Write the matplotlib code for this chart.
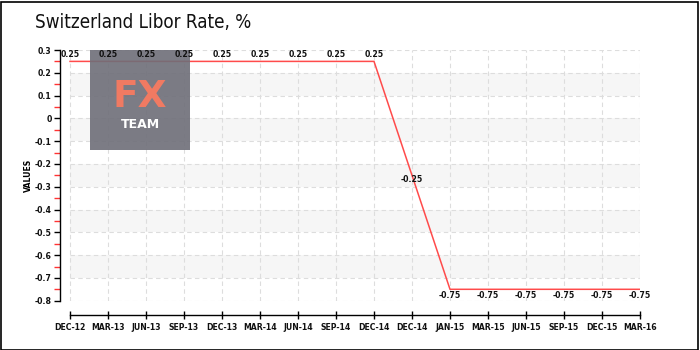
import matplotlib
matplotlib.use("Agg")
import matplotlib.pyplot as plt
from matplotlib.patches import Rectangle
import numpy as np

# Quarterly Swiss franc Libor rate, %
periods = ["DEC-12", "MAR-13", "JUN-13", "SEP-13", "DEC-13", "MAR-14", "JUN-14",
           "SEP-14", "DEC-14", "DEC-14", "JAN-15", "MAR-15", "JUN-15", "SEP-15",
           "DEC-15", "MAR-16"]
rates = [0.25, 0.25, 0.25, 0.25, 0.25, 0.25, 0.25, 0.25, 0.25,
         -0.25, -0.75, -0.75, -0.75, -0.75, -0.75, -0.75]
y_ticks = [0.3, 0.2, 0.1, 0, -0.1, -0.2, -0.3, -0.4, -0.5, -0.6, -0.7, -0.8]
y_tick_labels = ["0.3", "0.2", "0.1", "0", "-0.1", "-0.2", "-0.3", "-0.4",
                 "-0.5", "-0.6", "-0.7", "-0.8"]

W, H = 700, 350
fig = plt.figure(figsize=(W / 100, H / 100), dpi=100)
fig.patch.set_facecolor("white")

# outer frame
fig.add_artist(Rectangle((0.5 / W, 0.5 / H), 1 - 2.5 / W, 1 - 2.5 / H,
                         transform=fig.transFigure, fill=False,
                         edgecolor="black", linewidth=1.2))

fig.text(35 / W, 1 - 22 / H, "Switzerland Libor Rate, %", fontsize=13.5,
         family="DejaVu Sans", fontstretch="condensed", fontweight="light",
         va="center", ha="left", color="#111111")

left, right, top, bottom = 60, 640, 50, 300.7
ax = fig.add_axes([left / W, 1 - bottom / H, (right - left) / W, (bottom - top) / H])
x = np.arange(len(periods))
n = len(periods)
pad = 10 / 38.0
ax.set_xlim(-pad, n - 1)
ax.set_ylim(-0.8, 0.3)

# alternating bands and dashed grid
for lo in [0.1, -0.1, -0.3, -0.5, -0.7]:
    ax.fill_between([0, n - 1], lo, lo + 0.1, color="#f6f6f6", linewidth=0, zorder=0)
for yv in y_ticks:
    ax.plot([0, n - 1], [yv, yv], color="#dddddd", linestyle=(0, (4, 3)),
            linewidth=0.8, zorder=1)
for xi in x:
    ax.plot([xi, xi], [-0.8, 0.3], color="#dddddd", linestyle=(0, (4, 3)),
            linewidth=0.8, zorder=1)

ax.plot(x, rates, color="#ff4b4b", linewidth=1.1, zorder=3)

label_font = dict(family="DejaVu Sans", fontsize=5.6, color="#111111", fontweight="bold")

for s in ["top", "right"]:
    ax.spines[s].set_visible(False)
ax.spines["left"].set_bounds(-0.8, 0.3)
ax.spines["left"].set_linewidth(1.0)
ax.spines["bottom"].set_position(("outward", 10))
ax.spines["bottom"].set_bounds(0, n - 1)
ax.spines["bottom"].set_linewidth(1.0)

ax.set_yticks(y_ticks)
ax.set_yticklabels(y_tick_labels, **label_font)
ax.set_yticks(np.arange(-0.75, 0.3, 0.1), minor=True)
ax.tick_params(axis="y", which="major", length=4, width=1, pad=2, direction="out")
ax.tick_params(axis="y", which="minor", length=4, width=1, color="#ff3333", direction="out")

ax.set_xticks(x)
ax.set_xticklabels(periods, **label_font)
ax.tick_params(axis="x", which="major", length=6, width=1, direction="inout", pad=3)

ax.set_ylabel("VALUES", fontsize=5.6, family="DejaVu Sans", fontweight="bold", labelpad=1)

# branding box, drawn over the line but under the value labels
box_ax = fig.add_axes([90 / W, 1 - 150 / H, 100 / W, 100 / H], zorder=1)
box_ax.set_axis_off()
box_ax.add_patch(Rectangle((0, 0), 1, 1, transform=box_ax.transAxes,
                           facecolor="#6e6e78", alpha=0.9, edgecolor="none"))
box_ax.text(0.5, 0.43, "FX", fontsize=27, color="#f07a62", fontweight="bold",
            family="DejaVu Sans", ha="center", va="baseline", transform=box_ax.transAxes)
box_ax.text(0.5, 0.22, "TEAM", fontsize=9, color="white", fontweight="bold",
            family="DejaVu Sans", ha="center", va="baseline", transform=box_ax.transAxes)

# value labels sit above the box, in their own top layer
label_ax = fig.add_axes(ax.get_position(), zorder=2, sharex=ax, sharey=ax)
label_ax.set_axis_off()
for xi, v in zip(x, rates):
    if v > 0:
        off, va = (0, 2), "bottom"
    elif v == min(rates):
        off, va = (0, -1), "top"
    else:
        off, va = (0, -3), "center"
    label_ax.annotate(f"{v:.2f}", (xi, v), xytext=off, textcoords="offset points",
                      ha="center", va=va, annotation_clip=False, clip_on=False,
                      **label_font)

fig.savefig("out.png", dpi=100, facecolor="white")
